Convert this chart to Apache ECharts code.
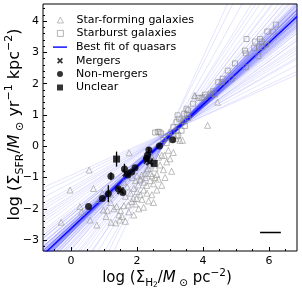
<!DOCTYPE html>
<html><head><meta charset="utf-8">
<script src="https://cdn.jsdelivr.net/npm/echarts@6/dist/echarts.min.js"></script>
<style>html,body{margin:0;padding:0;background:#fff}#c{width:302px;height:291px}</style>
</head><body><div id="c"></div>
<script>
// ---- axis ranges / ticks ----
const xRange = [-0.85, 6.85];
const yRange = [-3.35, 4.55];
const xTickLabels = [0, 2, 4, 6];
const yTickLabels = [-3, -2, -1, 0, 1, 2, 3, 4];

// ---- data ----
const starForming = [
  [-0.03,-1.4],[0.55,-0.76],[-0.3,-2.43],[1.76,-0.21],[0.27,-1.93],[0.32,-2.1],[0.58,-2.36],[0.78,-2.52],
  [0.68,-1.35],[0.98,-2.04],[1.06,-2.25],[1.21,-2.43],[1.48,-2.36],[1.38,-1.93],[1.74,-1.88],[3.74,1.62],
  [4.44,1.41],[4.14,0.67],[3.3,0.19],[3.18,0.25],[3.38,0.19],[2.98,0.46],[2.95,-0.13],[2.75,-0.29],[2.83,-0.29],
  [2.42,-0.29],[2.42,-0.87],[2.04,-1.24],[2.09,-1.08],[2.14,-0.92],[2.24,-0.87],[2.29,-0.76],[2.34,-0.71],
  [1.84,-1.77],[1.89,-1.67],[1.99,-1.67],[1.85,-1.0],[1.95,-1.1],[2.0,-0.95],[2.1,-1.05],[2.2,-1.15],
  [2.25,-1.0],[2.3,-1.25],[2.4,-1.1],[2.45,-0.95],[2.5,-1.2],[2.55,-0.7],[2.6,-0.9],[2.65,-1.05],[2.7,-0.6],
  [2.8,-0.75],[2.9,-0.5],[3.0,-0.4],[1.9,-1.35],[2.0,-1.45],[2.1,-1.55],[2.2,-1.4],[2.3,-1.5],[2.15,-1.7],
  [1.8,-1.5],[1.7,-1.3],[1.65,-1.6],[2.6,-1.4],[2.75,-1.25],[2.45,-1.55],[2.35,-1.75],[1.95,-1.85],[2.05,-2.0],
  [1.75,-2.1],[1.6,-1.9],[1.5,-2.05],[1.55,-2.25],[1.65,-2.4],[1.45,-2.2],[1.3,-2.0],[1.2,-1.8],[1.1,-2.05],
  [1.35,-2.45],[1.9,-2.2],[2.2,-1.95],[2.5,-1.8],[2.85,-1.0],[3.05,-0.8],[1.6,-1.15],[2.4,-0.6],
  [2.5,-0.45],[2.65,-0.35],[3.1,-0.2],[0.85,-1.7],[0.95,-1.5],[1.2,-1.55],[3.76,1.62],[2.55,-1.0]
];
const starburst = [
  [6.21,3.89],[5.95,3.67],[6.13,3.67],[5.32,3.43],[5.58,3.35],[5.73,3.43],[5.78,3.35],[5.91,3.25],[5.8,3.18],
  [5.7,3.16],[5.55,3.14],[5.27,3.06],[5.3,2.97],[5.68,2.88],[4.97,2.65],[5.3,2.53],[4.75,2.42],[4.87,2.16],
  [4.6,2.16],[4.57,2.05],[4.46,2.05],[4.31,1.76],[4.36,1.66],[4.24,1.68],[4.06,1.65],[3.96,1.55],[3.86,1.55],
  [4.04,1.57],[3.7,1.36],[3.55,1.15],[3.5,1.2],[3.43,1.04],[3.23,0.99],[3.28,0.88],[3.2,0.77],[3.1,0.61],
  [3.2,0.5],[2.95,0.3],[3.2,0.32],[2.63,0.46],[2.68,0.46],[2.73,0.41],[2.55,0.44],[3.25,0.35],[3.35,0.5],
  [3.45,0.65],[3.4,0.8],[3.55,0.9],[3.52,1.0],[3.45,0.85],[2.9,0.1],[2.8,0.2]
];
const mergers = [[1.5,-1.42],[1.67,-0.86],[2.38,-0.5],[2.3,-0.45]];
const nonMergers = [
  [0.53,-1.93],[0.95,-1.67],[1.13,-1.52],[1.21,-0.96],[1.62,-0.73],[1.94,-0.69],[1.72,-0.92],[1.84,-0.82],
  [1.43,-1.36],[1.57,-1.48],[2.29,-0.39],[2.36,-0.12],[2.68,0.01],[3.08,0.21],[2.32,-0.28]
];
const unclear = [[1.38,-0.41],[2.52,-0.55]];
// error bars: [x, y, err]
const errBars = [[1.38,-0.41,0.24],[1.21,-0.96,0.13],[1.13,-1.52,0.27],[1.62,-0.73,0.17],[2.36,-0.12,0.1]];
// best fit: slope, intercept
const bestFit = [0.99, -2.63];
// posterior samples: slope and value at pivot x
const fanPivotX = 2.5;
const fanSlopes = [0.98,1.02,0.95,1.05,0.99,1.01,0.93,1.08,0.97,1.03,0.9,1.1,0.96,1.04,0.88,1.12,0.94,1.06,
  0.85,1.15,0.92,1.07,0.82,1.2,0.99,1.0,0.78,1.25,0.91,1.09,0.75,1.3,0.87,1.13,0.7,1.38,0.95,1.02,0.65,1.45,
  0.84,1.18,0.6,1.55,0.97,1.01,0.55,1.7,0.8,1.22,0.5,1.9,0.89,1.11,0.72,1.35,0.98,1.03,0.62,2.1,0.93,1.05,
  0.68,1.6,0.86,1.16,0.47,2.3,
  0.99,1.0,0.97,1.03,0.96,1.04,0.98,1.02,0.95,1.05,0.94,1.06,0.99,1.01,0.92,1.08,0.97,1.03,0.9,1.1,
  0.96,1.04,0.93,1.07,0.98,1.02,0.91,1.09,0.95,1.05,
  1.0,0.99,1.01,0.98,1.02,0.97,1.03,1.0,0.99,1.01,0.96,1.04,0.98,1.02,1.0];
const fanPivotY = [-0.15,-0.12,-0.18,-0.1,-0.2,-0.14,-0.08,-0.22,-0.16,-0.11,-0.05,-0.25,-0.19,-0.13,-0.02,
  -0.28,-0.17,-0.09,0.0,-0.3,-0.15,-0.12,0.05,-0.32,-0.2,-0.1,0.08,-0.35,-0.06,-0.24,0.1,-0.38,-0.03,-0.27,
  0.12,-0.4,-0.14,-0.16,0.15,-0.42,-0.04,-0.3,0.18,-0.45,-0.12,-0.18,0.2,-0.5,-0.08,-0.26,0.22,-0.55,-0.1,
  -0.2,0.1,-0.35,-0.15,-0.13,0.15,-0.5,-0.16,-0.14,0.12,-0.4,-0.05,-0.25,0.25,-0.6,
  -0.16,-0.14,-0.1,-0.2,-0.12,-0.18,-0.22,-0.08,-0.15,-0.15,-0.06,-0.24,-0.19,-0.11,-0.13,-0.17,-0.2,-0.1,
  -0.09,-0.21,-0.14,-0.16,-0.12,-0.18,-0.07,-0.23,-0.15,-0.15,-0.11,-0.19,
  -0.15,-0.13,-0.17,-0.12,-0.18,-0.14,-0.16,-0.1,-0.2,-0.15,-0.13,-0.17,-0.11,-0.19,-0.15];
// scale bar (typical uncertainty)
const scaleBar = [[5.73,-2.76],[6.36,-2.76]];

const FONT = 'DejaVu Sans';
const fanLines = fanSlopes.map((m,i) => ({coords: [
  [xRange[0], fanPivotY[i] + m*(xRange[0]-fanPivotX)],
  [xRange[1], fanPivotY[i] + m*(xRange[1]-fanPivotX)]
]}));
const fitLine = [[xRange[0], bestFit[1]+bestFit[0]*xRange[0]], [xRange[1], bestFit[1]+bestFit[0]*xRange[1]]];

function steps(a, b, s){ const r=[]; for(let v=a; v<=b+1e-9; v+=s) r.push(Math.round(v*100)/100); return r; }
const xMinor = steps(-0.5, 6.5, 0.5);
const yMinor = steps(-3.2, 4.4, 0.2);

const xPath = 'path://M0,2 L2,0 L5,3 L8,0 L10,2 L7,5 L10,8 L8,10 L5,7 L2,10 L0,8 L3,5 Z';

function richSet(big, small, tiny){
  return {
    t:{fontSize:big, lineHeight:big+6, fontFamily:FONT, color:'#000'},
    i:{fontSize:big, lineHeight:big+6, fontStyle:'italic', fontFamily:FONT, color:'#000'},
    s:{fontSize:small, lineHeight:small, verticalAlign:'bottom', fontFamily:FONT, color:'#000'},
    ss:{fontSize:tiny, lineHeight:tiny-1, verticalAlign:'bottom', fontFamily:FONT, color:'#000'},
    p:{fontSize:small, lineHeight:small, verticalAlign:'top', fontFamily:FONT, color:'#000'}
  };
}

const chart = echarts.init(document.getElementById('c'), null, {renderer:'canvas'});
const baseAxis = (min,max) => ({type:'value', min, max, splitLine:{show:false}, axisLine:{show:false, onZero:false}});
const legText = pad => ({fontSize:11, fontFamily:FONT, color:'#000', padding:[0,0,0,pad]});
chart.setOption({
  animation:false,
  textStyle:{fontFamily:FONT},
  grid:{left:43, right:5, top:4, bottom:40, show:true, borderColor:'#000', borderWidth:1,
    backgroundColor:'transparent', containLabel:false, outerBoundsMode:'none'},
  xAxis:[
    Object.assign(baseAxis(xRange[0],xRange[1]), {
      position:'bottom',
      axisTick:{inside:true, length:4, customValues:xTickLabels, lineStyle:{color:'#000'}},
      axisLabel:{customValues:xTickLabels, color:'#000', fontSize:11, fontFamily:FONT, margin:5},
      name:'{t|log (Σ}{s|H}{ss|2}{t|/}{i|M}{s| ⊙}{t| pc}{p|−2}{t|)}',
      nameLocation:'middle', nameGap:17, nameMoveOverlap:false,
      nameTextStyle:{fontFamily:FONT, color:'#000', padding:[0,6,0,0], rich:richSet(15,10.5,7.5)}
    }),
    Object.assign(baseAxis(xRange[0],xRange[1]), {
      position:'bottom',
      axisTick:{inside:true, length:2, customValues:xMinor, lineStyle:{color:'#000'}},
      axisLabel:{show:false}
    })
  ],
  yAxis:[
    Object.assign(baseAxis(yRange[0],yRange[1]), {
      position:'left',
      axisTick:{inside:true, length:4, customValues:yTickLabels, lineStyle:{color:'#000'}},
      axisLabel:{customValues:yTickLabels, color:'#000', fontSize:11, fontFamily:FONT, margin:4,
        formatter:v=>String(v).replace('-','−')},
      name:'{t|log (Σ}{s|SFR}{t|/}{i|M}{s| ⊙}{t| yr}{p|−1}{t| kpc}{p|−2}{t|)}',
      nameLocation:'middle', nameGap:17, nameRotate:90, nameMoveOverlap:false,
      nameTextStyle:{fontFamily:FONT, color:'#000', padding:[0,0,0,6], rich:richSet(16,11,8)}
    }),
    Object.assign(baseAxis(yRange[0],yRange[1]), {
      position:'left',
      axisTick:{inside:true, length:2, customValues:yMinor, lineStyle:{color:'#000'}},
      axisLabel:{show:false}
    })
  ],
  legend:[
    {orient:'vertical', left:57, top:14.5, padding:0, itemWidth:6, itemHeight:6, itemGap:2.4, textStyle:legText(8),
      data:[
        {name:'Star-forming galaxies', icon:'triangle', itemStyle:{color:'transparent', borderColor:'#999', borderWidth:0.8}},
        {name:'Starburst galaxies', icon:'rect', itemStyle:{color:'transparent', borderColor:'#888', borderWidth:0.8}}
      ]},
    {orient:'vertical', left:53, top:41.6, padding:0, itemWidth:14, itemHeight:1.4, textStyle:legText(4),
      data:[{name:'Best fit of quasars', icon:'rect', itemStyle:{color:'#0000ff'}}]},
    {orient:'vertical', left:57, top:55.2, padding:0, itemWidth:6, itemHeight:6, itemGap:2.4, textStyle:legText(8),
      data:[
        {name:'Mergers', icon:xPath, itemStyle:{color:'#000'}},
        {name:'Non-mergers', icon:'circle', itemStyle:{color:'#000'}},
        {name:'Unclear', icon:'rect', itemStyle:{color:'#000'}}
      ]}
  ],
  series:[
    {type:'lines', coordinateSystem:'cartesian2d', clip:true, silent:true, z:1,
      data:fanLines, lineStyle:{color:'#0000ff', width:1, opacity:0.11}},
    {name:'Best fit of quasars', type:'line', data:fitLine, symbol:'none', clip:true, z:2,
      lineStyle:{color:'#0000ff', width:1.2}, itemStyle:{color:'#0000ff'}},
    {name:'Star-forming galaxies', type:'scatter', data:starForming, symbol:'triangle', symbolSize:6, z:3,
      itemStyle:{color:'transparent', borderColor:'#999', borderWidth:0.8}},
    {name:'Starburst galaxies', type:'scatter', data:starburst, symbol:'rect', symbolSize:5, z:3,
      itemStyle:{color:'transparent', borderColor:'#888', borderWidth:0.8}},
    {type:'custom', z:4, data:errBars, renderItem:(p,api)=>{
      const a=api.coord([api.value(0), api.value(1)-api.value(2)]);
      const b=api.coord([api.value(0), api.value(1)+api.value(2)]);
      return {type:'line', shape:{x1:a[0],y1:a[1],x2:b[0],y2:b[1]}, style:{stroke:'#000', lineWidth:1.3}};
    }},
    {name:'Mergers', type:'scatter', data:mergers, symbol:xPath, symbolSize:8, z:5, itemStyle:{color:'#000'}},
    {name:'Non-mergers', type:'scatter', data:nonMergers, symbol:'circle', symbolSize:7, z:5, itemStyle:{color:'#000'}},
    {name:'Unclear', type:'scatter', data:unclear, symbol:'rect', symbolSize:7, z:5, itemStyle:{color:'#000'}},
    {type:'line', data:scaleBar, symbol:'none', z:5, lineStyle:{color:'#000', width:1.5}}
  ]
});
</script></body></html>
